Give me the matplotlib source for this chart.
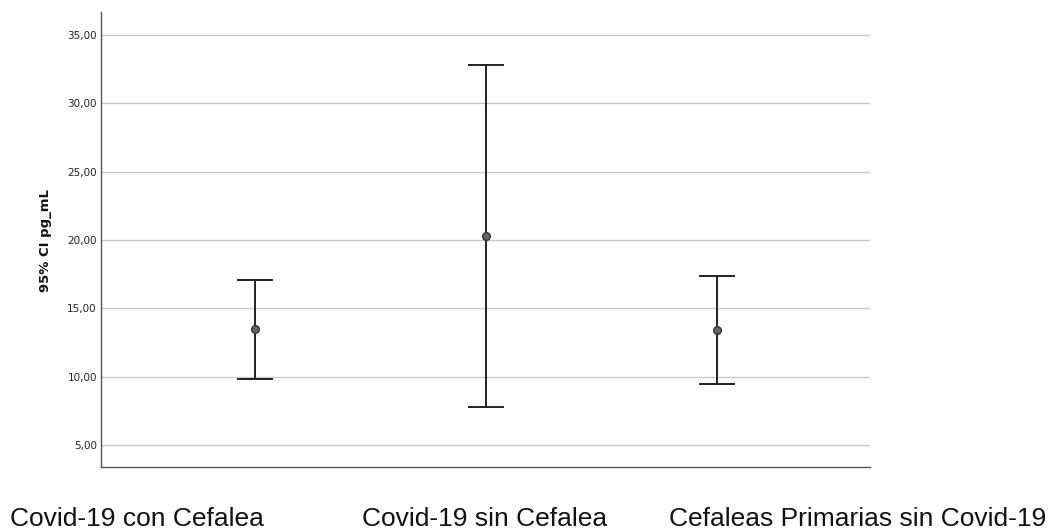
import numpy as np
import matplotlib.pyplot as plt

groups = ["Covid-19 con Cefalea", "Covid-19 sin Cefalea", "Cefaleas Primarias sin Covid-19"]
means = [13.48, 20.28, 13.42]
lower = [9.82, 7.78, 9.46]
upper = [17.08, 32.78, 17.35]
yticks = [5, 10, 15, 20, 25, 30, 35]

fig = plt.figure(figsize=(10.5, 5.29), dpi=100)
ax = fig.add_axes([101/1050, 1 - 467/529, 769/1050, 455/529])

x = np.arange(len(groups))
m = np.array(means)
err = [m - np.array(lower), np.array(upper) - m]
ax.errorbar(x, m, yerr=err, fmt='o', color='#111111', ecolor='#111111',
            elinewidth=1.3, capsize=13.3, capthick=1.3,
            markersize=5.5, markerfacecolor='#666666', markeredgecolor='#333333', zorder=3)

ax.set_xlim(-0.667, 2.662)
ax.set_ylim(3.39, 36.68)
ax.set_yticks(yticks)
ax.set_yticklabels([f"{v:.2f}".replace('.', ',') for v in yticks], fontsize=7.5, color='#222222')
ax.set_xticks([])
ax.tick_params(axis='y', length=0, pad=3)
ax.yaxis.grid(True, color='#c8c8c8', linewidth=1.0)
ax.set_axisbelow(True)
for s in ['top', 'right']:
    ax.spines[s].set_visible(False)
for s in ['left', 'bottom']:
    ax.spines[s].set_color('#555555')
    ax.spines[s].set_linewidth(1.0)

fig.text(46/1050, 1 - 240/529, "95% CI pg_mL", rotation=90, fontsize=9.5, fontweight='bold',
         ha='center', va='center', color='#111111')

label_x = [137, 485, 858]
for lx, g in zip(label_x, groups):
    fig.text(lx/1050, 3/529, g, fontsize=19, family='Liberation Sans',
             ha='center', va='baseline', color='#111111')

fig.savefig("out.png", dpi=100)
